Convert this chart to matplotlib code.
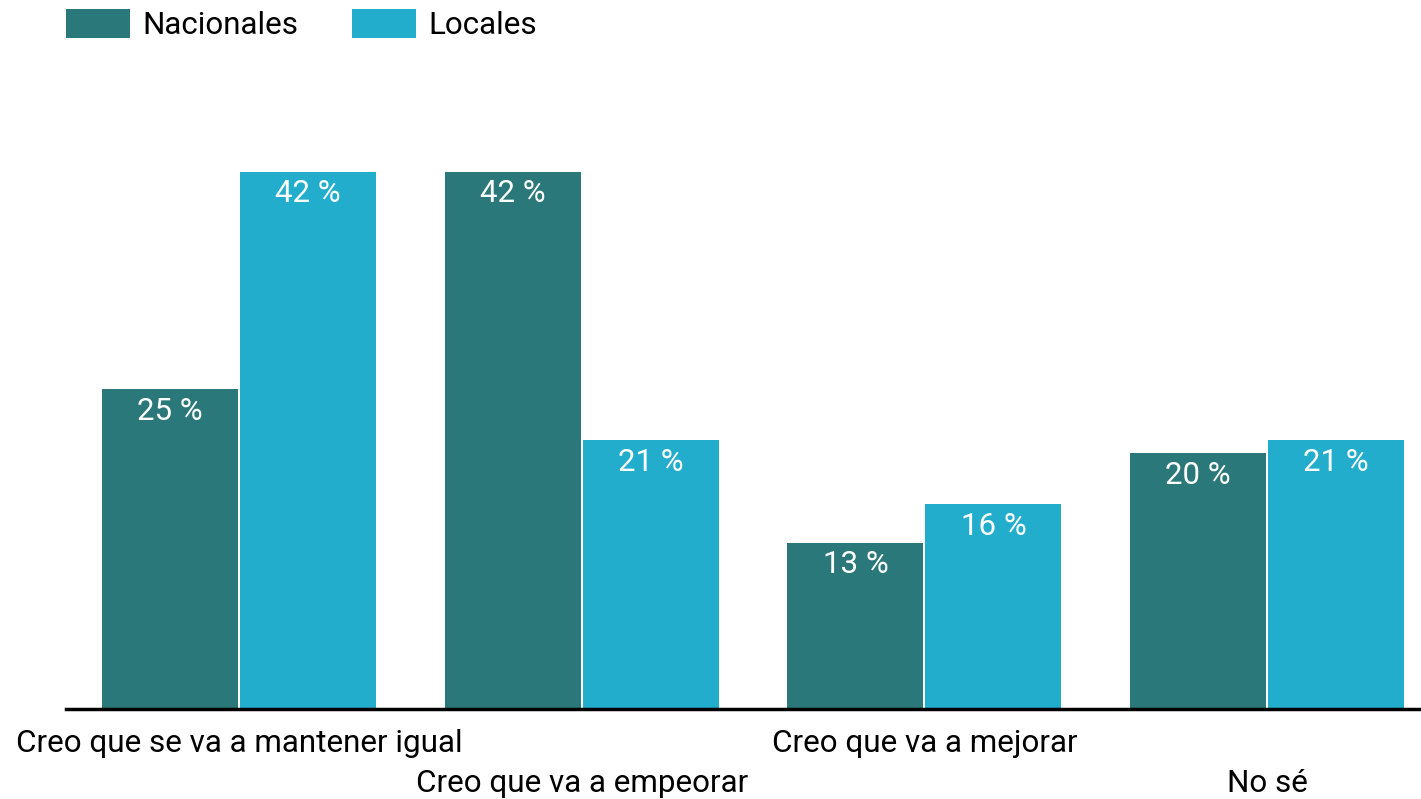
import matplotlib.pyplot as plt
import numpy as np

plt.rcParams['font.family'] = ['Roboto', 'DejaVu Sans']

categories = ["Creo que se va a mantener igual", "Creo que va a empeorar",
              "Creo que va a mejorar", "No sé"]
nacionales = [25, 42, 13, 20]
locales = [42, 21, 16, 21]
series_names = ["Nacionales", "Locales"]
colors = ["#2a7879", "#22adcd"]

W, H = 1421, 799
step = 342.7
fig = plt.figure(figsize=(W / 100, H / 100), dpi=100)
# axes box in pixels: left 66, bottom line at 709, top at 80
ax = fig.add_axes([66 / W, (H - 709) / H, (W - 66) / W, (709 - 80) / H])

x = np.arange(len(categories))
width = 136 / step
off = 69 / step
b1 = ax.bar(x - off, nacionales, width, color=colors[0], label=series_names[0])
b2 = ax.bar(x + off, locales, width, color=colors[1], label=series_names[1])

for bars, vals in [(b1, nacionales), (b2, locales)]:
    for rect, v in zip(bars, vals):
        ax.annotate(f"{v} %", (rect.get_x() + rect.get_width() / 2, v),
                    xytext=(0, -22), textcoords="offset pixels",
                    ha="center", va="center", color="white", fontsize=22.5)

ax.set_xlim(-173 / step, (W - 239) / step)
ax.set_ylim(0, (709 - 80) / 12.79)

for s in ["top", "right", "left"]:
    ax.spines[s].set_visible(False)
ax.spines["bottom"].set_linewidth(2.5)
ax.spines["bottom"].set_color("black")
ax.set_yticks([])
ax.set_xticks(x)
ax.set_xticklabels([])
ax.tick_params(axis="x", length=0)

for i, cat in enumerate(categories):
    dy = -34 if i % 2 == 0 else -75
    ax.annotate(cat, (i, 0), xytext=(0, dy), textcoords="offset pixels",
                ha="center", va="center", fontsize=22.6, color="black",
                annotation_clip=False)

fig.legend(handles=[b1, b2], labels=series_names, loc="upper left",
           bbox_to_anchor=(66 / W, 1 - 9 / H), ncol=2, frameon=False,
           fontsize=22.6, handlelength=2.04, handleheight=1.05,
           handletextpad=0.38, columnspacing=1.73, borderpad=0,
           borderaxespad=0)

fig.savefig("out.png", dpi=100, facecolor="white")
